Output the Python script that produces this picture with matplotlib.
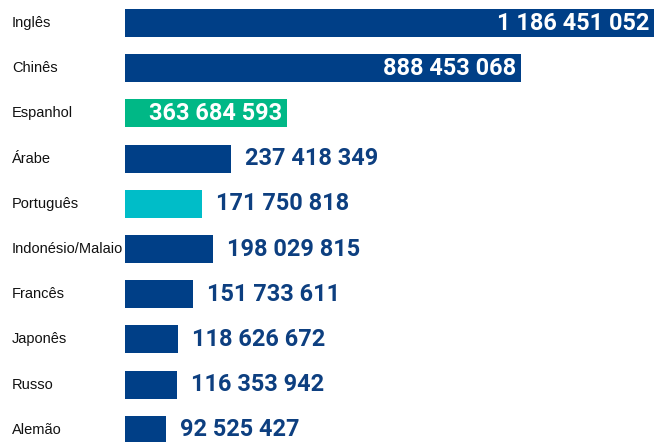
import matplotlib.pyplot as plt

idiomas = ["Inglês", "Chinês", "Espanhol", "Árabe", "Português",
           "Indonésio/Malaio", "Francês", "Japonês", "Russo", "Alemão"]
falantes = [1186451052, 888453068, 363684593, 237418349, 171750818,
            198029815, 151733611, 118626672, 116353942, 92525427]
cores = ["#003f87", "#003f87", "#00b886", "#003f87", "#00bdc8",
         "#003f87", "#003f87", "#003f87", "#003f87", "#003f87"]
dentro = [True, True, True, False, False, False, False, False, False, False]

def fmt(v):
    return f"{v:,}".replace(",", " ")

fig = plt.figure(figsize=(6.54, 4.42), dpi=100)
ax = fig.add_axes([125 / 654, 0, 1 - 125 / 654, 1])

pos = list(range(len(idiomas)))
ax.barh(pos, falantes, height=0.62, color=cores)
ax.set_xlim(0, max(falantes))
ax.set_ylim(9.27, -0.509)
ax.axis("off")

px = max(falantes) / 529  # valor por pixel

for i, (v, d) in enumerate(zip(falantes, dentro)):
    if d:
        ax.text(v - 5 * px, i, fmt(v), ha="right", va="center", color="white",
                fontsize=16.9, fontweight="bold", family="Roboto")
    else:
        ax.text(v + 14 * px, i, fmt(v), ha="left", va="center", color="#0d3f80",
                fontsize=16.9, fontweight="bold", family="Roboto")
    fig.text(12 / 654, 1 - (23 + i * 45.2) / 442, idiomas[i], ha="left",
             va="center", fontsize=10.5, color="#111111", family="Liberation Sans")

fig.savefig("out.png", dpi=100)
